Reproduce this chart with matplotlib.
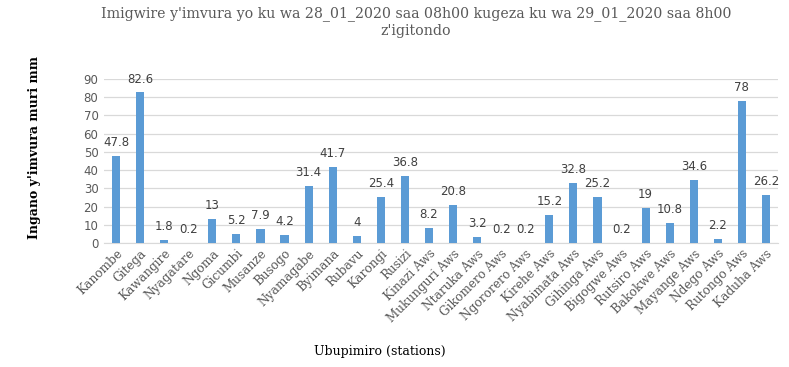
import matplotlib
matplotlib.use("Agg")
import matplotlib.pyplot as plt
import numpy as np

stations = ["Kanombe", "Gitega", "Kawangire", "Nyagatare", "Ngoma", "Gicumbi", "Musanze",
            "Busogo", "Nyamagabe", "Byimana", "Rubavu", "Karongi", "Rusizi", "Kinazi Aws",
            "Mukunguri Aws", "Ntaruka Aws", "Gikomero Aws", "Ngororero Aws", "Kirehe Aws",
            "Nyabimata Aws", "Gihinga Aws", "Bigogwe Aws", "Rutsiro Aws", "Bakokwe Aws",
            "Mayange Aws", "Ndego Aws", "Rutongo Aws", "Kaduha Aws"]
rain = [47.8, 82.6, 1.8, 0.2, 13, 5.2, 7.9, 4.2, 31.4, 41.7, 4, 25.4, 36.8, 8.2,
        20.8, 3.2, 0.2, 0.2, 15.2, 32.8, 25.2, 0.2, 19, 10.8, 34.6, 2.2, 78, 26.2]
labels = ["47.8", "82.6", "1.8", "0.2", "13", "5.2", "7.9", "4.2", "31.4", "41.7", "4",
          "25.4", "36.8", "8.2", "20.8", "3.2", "0.2", "0.2", "15.2", "32.8", "25.2",
          "0.2", "19", "10.8", "34.6", "2.2", "78", "26.2"]
yticks = list(range(0, 100, 10))

fig = plt.figure(figsize=(7.89, 3.67), dpi=100)
ax = fig.add_axes([104/789, 1 - 243/367, (778-104)/789, (243-79)/367])

x = np.arange(len(stations))
bars = ax.bar(x, rain, width=0.34, color="#5B9BD5", zorder=3)
for xi, v, lab in zip(x, rain, labels):
    ax.annotate(lab, (xi, v), xytext=(0, 5), textcoords="offset points",
                ha="center", va="bottom", fontsize=8.5, color="#404040",
                family="DejaVu Sans")

ax.set_xlim(-0.5, len(stations) - 0.5)
ax.set_ylim(0, 90)
ax.set_yticks(yticks)
ax.set_yticklabels([str(t) for t in yticks], fontsize=8.5, color="#595959", family="DejaVu Sans")
ax.set_xticks(x)
ax.set_xticklabels(stations, rotation=45, ha="right", rotation_mode="anchor",
                   fontsize=8.7, color="#595959", family="DejaVu Serif")
ax.tick_params(axis="both", length=0, pad=4)
ax.tick_params(axis="x", pad=3)
ax.grid(axis="y", color="#D9D9D9", linewidth=0.9, zorder=0)
for s in ["top", "right", "left"]:
    ax.spines[s].set_visible(False)
ax.spines["bottom"].set_color("#D9D9D9")

fig.text(416/789, 1 - 14/367, "Imigwire y'imvura yo ku wa 28_01_2020 saa 08h00 kugeza ku wa 29_01_2020 saa 8h00",
         ha="center", va="center", fontsize=10.2, color="#595959", family="DejaVu Serif")
fig.text(416/789, 1 - 31/367, "z'igitondo",
         ha="center", va="center", fontsize=10.2, color="#595959", family="DejaVu Serif")
fig.text(35/789, 1 - 148/367, "Ingano y'imvura muri mm", rotation=90, ha="center", va="center",
         fontsize=9, color="#000000", family="DejaVu Serif", fontweight="bold")
fig.text(380/789, 1 - 352/367, "Ubupimiro (stations)", ha="center", va="center",
         fontsize=9, color="#000000", family="DejaVu Serif")

fig.savefig("out.png", dpi=100)
